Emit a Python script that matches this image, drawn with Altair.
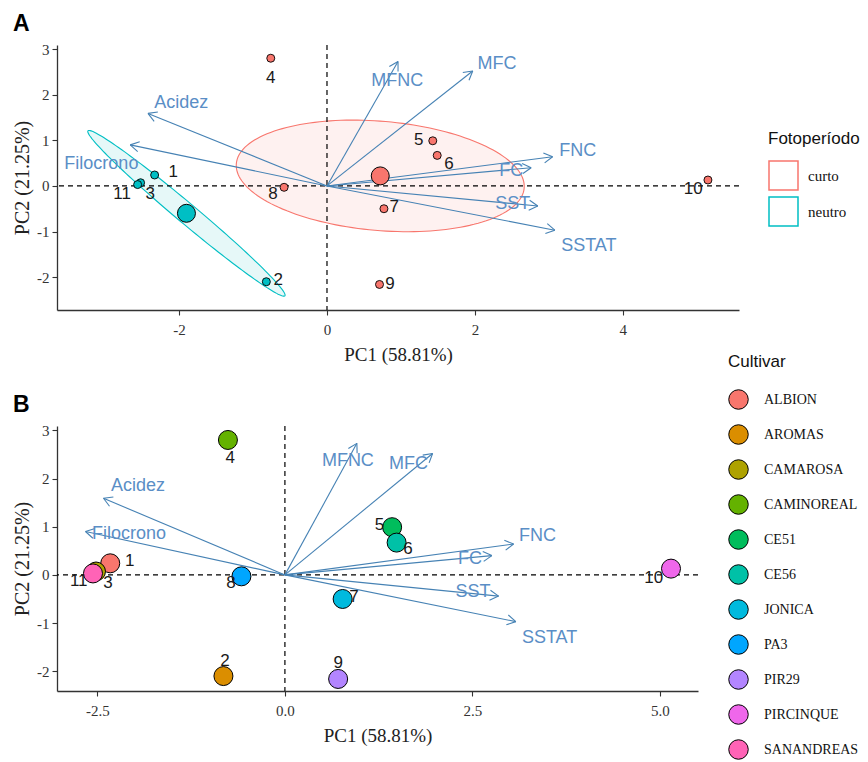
import math
import altair as alt
import pandas as pd

# ---------------- data ----------------
obs_id = ["1", "2", "3", "4", "5", "6", "7", "8", "9", "10", "11"]
cultivar = ["ALBION", "AROMAS", "CAMAROSA", "CAMINOREAL", "CE51", "CE56",
            "JONICA", "PA3", "PIR29", "PIRCINQUE", "SANANDREAS"]
fotoperiodo = ["neutro", "neutro", "neutro", "curto", "curto", "curto",
               "curto", "curto", "curto", "curto", "neutro"]
pc1 = [-2.33, -0.82, -2.52, -0.76, 1.43, 1.49, 0.77, -0.58, 0.71, 5.15, -2.56]
pc2 = [0.24, -2.10, 0.07, 2.80, 0.99, 0.67, -0.50, -0.03, -2.16, 0.13, 0.03]

# label positions of observation numbers (data units)
idA_x = [-2.08, -0.66, -2.39, -0.76, 1.24, 1.65, 0.91, -0.73, 0.85, 4.95, -2.77]
idA_y = [0.31, -2.06, -0.18, 2.37, 1.01, 0.48, -0.46, -0.18, -2.15, -0.07, -0.17]
idB_x = [-2.07, -0.80, -2.36, -0.73, 1.26, 1.64, 0.92, -0.72, 0.71, 4.92, -2.75]
idB_y = [0.29, -1.78, -0.17, 2.43, 1.04, 0.54, -0.46, -0.17, -1.83, -0.06, -0.12]

# variable loadings (arrow tips)
variables = ["Acidez", "Filocrono", "MFNC", "MFC", "FNC", "FC", "SST", "SSTAT"]
tip_x = [-2.42, -2.66, 0.96, 1.97, 3.05, 2.76, 2.85, 3.08]
tip_y = [1.59, 0.90, 2.73, 2.52, 0.64, 0.40, -0.44, -0.97]
varA_x = [-1.97, -3.05, 0.95, 2.30, 3.39, 2.49, 2.51, 3.54]
varA_y = [1.82, 0.48, 2.30, 2.68, 0.77, 0.33, -0.39, -1.32]
varB_x = [-1.96, -2.08, 0.84, 1.65, 3.37, 2.47, 2.51, 3.53]
varB_y = [1.85, 0.85, 2.37, 2.30, 0.81, 0.33, -0.35, -1.31]

# groups (panel A)
groups = ["curto", "neutro"]
group_colors = ["#F8766D", "#00BFC4"]
group_fills = ["#FEF1F0", "#E6F8F8"]
centroid_x = [0.72, -1.90]
centroid_y = [0.22, -0.60]
ell_u = [(1.945, -0.18), (-1.331, 1.809)]
ell_v = [(-0.08, 1.21), (0.087, 0.168)]

cultivar_colors = ["#F8766D", "#DB8E00", "#AEA200", "#64B200", "#00BD5C", "#00C1A7",
                   "#00BADE", "#00A6FF", "#B385FF", "#EF67EB", "#FF63B6"]

ARROW = "#4682B4"
ARROW_TXT = "#5A8EC6"
MINUS = "\u2212"

# ---------------- helpers ----------------
def make_x(field, dom, ticks, fmt):
    return alt.X(field, type="quantitative",
                 scale=alt.Scale(domain=dom, nice=False, zero=False),
                 axis=alt.Axis(values=ticks, format=fmt, title="PC1 (58.81%)",
                               labelExpr=f"replace(datum.label, '{MINUS}', '-')"))


def make_y(field, dom, ticks):
    return alt.Y(field, type="quantitative",
                 scale=alt.Scale(domain=dom, nice=False, zero=False),
                 axis=alt.Axis(values=ticks, format="d", title="PC2 (21.25%)",
                               labelExpr=f"replace(datum.label, '{MINUS}', '-')"))


def arrow_heads(kx, ky, L=10.0, ang=30.0):
    rows = []
    for name, x, y in zip(variables, tip_x, tip_y):
        px, py = x * kx, -y * ky
        n = math.hypot(px, py)
        ux, uy = -px / n, -py / n
        for s in (1, -1):
            a = math.radians(ang * s)
            rx = ux * math.cos(a) - uy * math.sin(a)
            ry = ux * math.sin(a) + uy * math.cos(a)
            rows.append({"var": name, "x": x, "y": y,
                         "x2": x + rx * L / kx, "y2": y - ry * L / ky})
    return pd.DataFrame(rows)


def ellipse_df(i, n=160):
    cx, cy = centroid_x[i], centroid_y[i]
    ux, uy = ell_u[i]
    vx, vy = ell_v[i]
    rows = []
    for k in range(n + 1):
        t = 2 * math.pi * k / n
        rows.append({"k": k, "group": groups[i],
                     "x": cx + ux * math.cos(t) + vx * math.sin(t),
                     "y": cy + uy * math.cos(t) + vy * math.sin(t)})
    return pd.DataFrame(rows)


obs = pd.DataFrame({"id": obs_id, "cultivar": cultivar, "foto": fotoperiodo,
                    "pc1": pc1, "pc2": pc2,
                    "ax": idA_x, "ay": idA_y, "bx": idB_x, "by": idB_y})
loads = pd.DataFrame({"var": variables, "tx": tip_x, "ty": tip_y,
                      "x0": [0.0] * len(variables), "y0": [0.0] * len(variables),
                      "ax": varA_x, "ay": varA_y, "bx": varB_x, "by": varB_y})
cent = pd.DataFrame({"group": groups, "x": centroid_x, "y": centroid_y})
zero_df = pd.DataFrame({"zero": [0.0]})


def panel(letter, xdom, ydom, W, H, xticks, xfmt, lab_x, lab_y, id_x, id_y, is_a):
    kx = W / (xdom[1] - xdom[0])
    ky = H / (ydom[1] - ydom[0])
    X = lambda f: make_x(f, xdom, xticks, xfmt)
    Y = lambda f: make_y(f, ydom, [-2, -1, 0, 1, 2, 3])
    layers = []

    if is_a:
        for i in range(2):
            layers.append(
                alt.Chart(ellipse_df(i))
                .mark_line(fill=group_fills[i], stroke=group_colors[i], strokeWidth=1.1)
                .encode(x=X("x"), y=Y("y"), order=alt.Order("k:Q"))
            )

    layers.append(alt.Chart(zero_df).mark_rule(color="black", strokeDash=[5, 4], strokeWidth=1.2)
                  .encode(y=Y("zero")))
    layers.append(alt.Chart(zero_df).mark_rule(color="black", strokeDash=[5, 4], strokeWidth=1.2)
                  .encode(x=X("zero")))
    layers.append(alt.Chart(loads).mark_rule(color=ARROW, strokeWidth=1.1)
                  .encode(x=X("x0"), y=Y("y0"), x2="tx", y2="ty"))
    layers.append(alt.Chart(arrow_heads(kx, ky)).mark_rule(color=ARROW, strokeWidth=1.1)
                  .encode(x=X("x"), y=Y("y"), x2="x2", y2="y2"))
    layers.append(alt.Chart(loads).mark_text(font="Liberation Sans", fontSize=18, color=ARROW_TXT)
                  .encode(x=X(lab_x), y=Y(lab_y), text="var:N"))

    if is_a:
        # stroke scale (legend) and fill scale (points) use differently ordered domains
        stroke_scale = alt.Scale(domain=groups, range=group_colors)
        fill_scale = alt.Scale(domain=groups[::-1], range=group_colors[::-1])
        leg = alt.Legend(title="Fotoperíodo", orient="none", legendX=711, legendY=86,
                         titleFont="Liberation Sans", titleFontSize=17,
                         titleFontWeight="normal", titleColor="#111", titlePadding=12,
                         labelFont="Liberation Serif", labelFontSize=15, labelColor="#111",
                         labelOffset=9, symbolType="square", symbolSize=841,
                         symbolStrokeWidth=1.5, symbolFillColor="white", rowPadding=1,
                         padding=0)
        # legend carrier: tiny hollow squares hidden beneath the centroid circles
        layers.append(alt.Chart(cent).mark_point(shape="square", filled=False, size=4,
                                                 strokeWidth=1, opacity=1)
                      .encode(x=X("x"), y=Y("y"),
                              stroke=alt.Stroke("group:N", scale=stroke_scale, legend=leg)))
        layers.append(alt.Chart(obs).mark_circle(size=64, stroke="black", strokeWidth=0.9, opacity=1)
                      .encode(x=X("pc1"), y=Y("pc2"),
                              fill=alt.Fill("foto:N", scale=fill_scale, legend=None)))
        layers.append(alt.Chart(cent).mark_circle(size=324, stroke="black", strokeWidth=1, opacity=1)
                      .encode(x=X("x"), y=Y("y"),
                              fill=alt.Fill("group:N", scale=fill_scale, legend=None)))
    else:
        legB = alt.Legend(title="Cultivar", orient="none", legendX=671, legendY=-72,
                          titleFont="Liberation Sans", titleFontSize=17,
                          titleFontWeight="normal", titleColor="#111", titlePadding=18,
                          labelFont="Liberation Serif", labelFontSize=14, labelColor="#111",
                          labelOffset=15, symbolType="circle", symbolSize=380,
                          symbolStrokeColor="black", symbolStrokeWidth=1, symbolOpacity=1,
                          rowPadding=10, padding=0)
        layers.append(alt.Chart(obs).mark_circle(size=361, stroke="black", strokeWidth=1, opacity=1)
                      .encode(x=X("pc1"), y=Y("pc2"),
                              fill=alt.Fill("cultivar:N",
                                            scale=alt.Scale(domain=cultivar, range=cultivar_colors),
                                            legend=legB)))

    layers.append(alt.Chart(obs).mark_text(font="Liberation Sans", fontSize=17, color="#1a1a1a")
                  .encode(x=X(id_x), y=Y(id_y), text="id:N"))
    layers.append(alt.Chart(pd.DataFrame({"letter": [letter]}))
                  .mark_text(font="Liberation Sans", fontWeight="bold", fontSize=23,
                             align="left", baseline="alphabetic", color="black")
                  .encode(x=alt.value(-44), y=alt.value(-14), text="letter:N"))

    return alt.layer(*layers).properties(width=W, height=H)


panelA = panel("A", [-3.65, 5.57], [-2.72, 3.09], 682, 265, [-2, 0, 2, 4], "d",
               "ax", "ay", "ax", "ay", True)
panelB = panel("B", [-3.04, 5.51], [-2.41, 3.09], 641, 265, [-2.5, 0, 2.5, 5.0], ".1f",
               "bx", "by", "bx", "by", False)

chart = (
    alt.vconcat(panelA, panelB, spacing=116, bounds="flush")
    .resolve_scale(x="independent", y="independent", stroke="independent", fill="independent")
    .properties(padding={"left": 4, "top": 5, "right": 0, "bottom": 0}, background="white")
    .configure_view(stroke=None)
    .configure_axis(grid=False, domainColor="#333", domainWidth=1.3, tickColor="#333",
                    tickSize=5, tickWidth=1.1, labelFont="Liberation Serif", labelFontSize=15,
                    labelColor="#333", titleFont="Liberation Serif", titleFontSize=19,
                    titleFontWeight="normal", titleColor="#222")
    .configure_axisX(labelPadding=7, titlePadding=8)
    .configure_axisY(labelPadding=3, titlePadding=4, titleFontSize=20)
)

chart.save("out.html", embed_options={"renderer": "svg", "actions": False})
